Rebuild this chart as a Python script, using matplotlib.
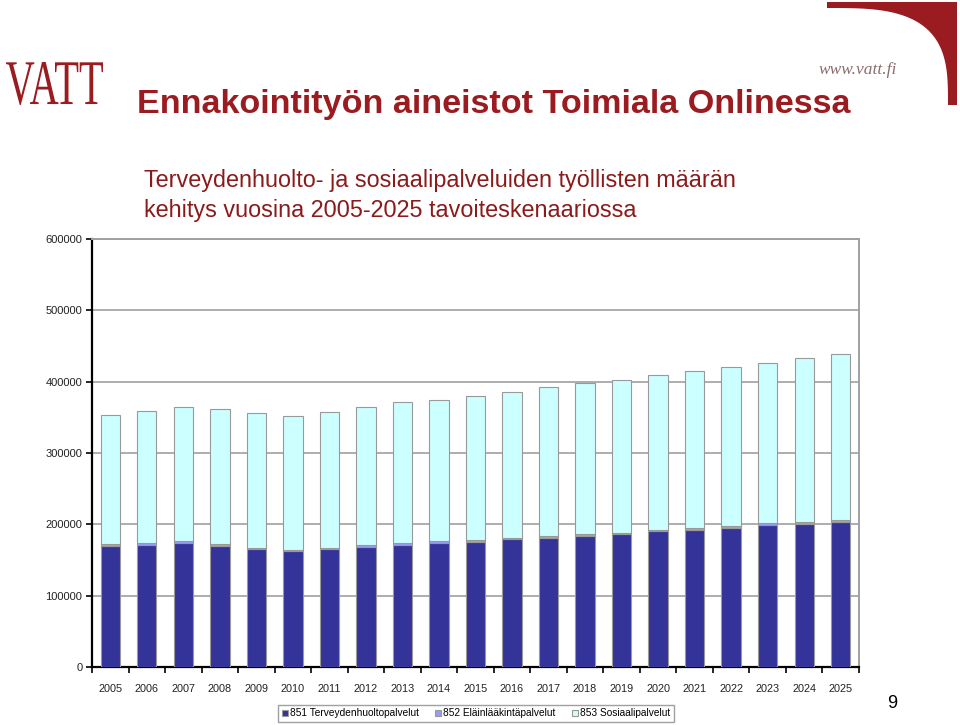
import numpy as np
import matplotlib
matplotlib.use("Agg")
import matplotlib.pyplot as plt
from matplotlib.patches import Polygon, PathPatch
from matplotlib.textpath import TextPath
from matplotlib.font_manager import FontProperties
from matplotlib.transforms import Affine2D

plt.rcParams['font.family'] = ['Liberation Sans', 'DejaVu Sans']

years = [str(y) for y in range(2005, 2026)]
totals = [353500, 358600, 364600, 362300, 356200, 352500, 357700, 364600, 371200, 375000,
          380000, 386000, 392000, 397800, 403000, 409000, 415000, 421000, 426800, 433000, 439000]
s851 = [169700, 170700, 173500, 169700, 165000, 162000, 165000, 168000, 170700, 173500,
        175700, 179000, 181400, 183700, 186000, 190000, 192000, 194500, 198700, 200500, 203000]
s852 = [2500] * 21
s853 = [t - a - b for t, a, b in zip(totals, s851, s852)]
series_names = ["851 Terveydenhuoltopalvelut", "852 Eläinlääkintäpalvelut", "853 Sosiaalipalvelut"]
yticks = [0, 100000, 200000, 300000, 400000, 500000, 600000]

title = "Ennakointityön aineistot Toimiala Onlinessa"
subtitle1 = "Terveydenhuolto- ja sosiaalipalveluiden työllisten määrän"
subtitle2 = "kehitys vuosina 2005-2025 tavoiteskenaariossa"

W, H = 960, 725
fig = plt.figure(figsize=(W / 100, H / 100), dpi=100)
red = "#9b1c20"

def fx(px):
    return px / W

def fy(py):
    return 1 - py / H

# Axes
L, R, T, B = 92, 859, 239, 667
ax = fig.add_axes([fx(L), fy(B), fx(R - L), (B - T) / H])
x = np.arange(len(years))
w = 0.53
edge = "#999999"
ax.bar(x, s851, w, color="#333399", edgecolor=edge, linewidth=0.8, label=series_names[0], zorder=3)
ax.bar(x, s852, w, bottom=s851, color="#9999ff", edgecolor=edge, linewidth=0.8, label=series_names[1], zorder=3)
ax.bar(x, s853, w, bottom=np.array(s851) + np.array(s852), color="#ccffff", edgecolor=edge,
       linewidth=0.8, label=series_names[2], zorder=3)

ax.set_xlim(-0.5, len(years) - 0.5)
ax.set_ylim(0, 600000)
ax.set_yticks(yticks)
ax.set_yticklabels([str(v) for v in yticks], fontsize=8, color="#222222")
ax.yaxis.grid(True, color="#a0a0a0", linewidth=1.2, zorder=0)
ax.set_axisbelow(True)
ax.set_xticks(x)
ax.set_xticklabels(years, fontsize=7.8, color="#222222")
ax.tick_params(axis='x', which='major', length=0, pad=12)
ax.set_xticks(np.arange(-0.5, len(years)), minor=True)
ax.tick_params(axis='x', which='minor', length=4, width=1.2, direction='out', color='black')
ax.tick_params(axis='y', length=4, width=1.2, direction='out', color='black', pad=3)
ax.spines['left'].set_color('black')
ax.spines['left'].set_linewidth(1.6)
ax.spines['bottom'].set_color('black')
ax.spines['bottom'].set_linewidth(1.6)
ax.spines['top'].set_color('#a0a0a0')
ax.spines['top'].set_linewidth(1.4)
ax.spines['right'].set_color('#a0a0a0')
ax.spines['right'].set_linewidth(1.4)

# Legend
leg = fig.legend(loc='center', bbox_to_anchor=(fx(476), fy(713.5)), ncol=3, fontsize=7.3,
                 frameon=True, fancybox=False, edgecolor="#888888", handlelength=0.6,
                 handleheight=0.6, handletextpad=0.2, columnspacing=1.6, borderpad=0.35)
leg.get_frame().set_linewidth(1.0)

# Titles
fig.text(fx(137), fy(104), title, fontsize=24.6, fontweight='bold', color=red, va='center', ha='left')
fig.text(fx(144), fy(180), subtitle1, fontsize=16.8, color="#8b1a1a", va='center', ha='left')
fig.text(fx(144), fy(210), subtitle2, fontsize=16.8, color="#8b1a1a", va='center', ha='left')

fig.text(fx(897), fy(70), "www.vatt.fi", fontsize=12.5, style='italic', family='Liberation Serif',
         color="#8c6d6d", va='center', ha='right')
fig.text(fx(892), fy(703), "9", fontsize=13, color="black", va='center', ha='center')

# VATT logo (condensed serif text path)
tp = TextPath((0, 0), "VATT", size=100, prop=FontProperties(family='Liberation Serif'))
bb = tp.get_extents()
x0, y0, x1, y1 = 6, 62, 103, 105  # pixel box
sx = (x1 - x0) / bb.width
sy = (y1 - y0) / bb.height
trans = Affine2D().translate(-bb.x0, -bb.y0).scale(sx, sy).translate(x0, H - y1)
logo = PathPatch(trans.transform_path(tp), facecolor=red, edgecolor='none', transform=None)
fig.patches.append(logo)

# corner decoration (superellipse inner edge)
n = 3.2
t = np.linspace(0, np.pi / 2, 60)
cx = np.sin(t) ** (2 / n)
cy = np.cos(t) ** (2 / n)
inner = [(827 + 121 * a, 105 - 97 * b) for a, b in zip(cx, cy)]
pts = [(827, 2), (957, 2), (957, 105)] + inner[::-1]
poly = Polygon([(fx(px), fy(py)) for px, py in pts], closed=True, facecolor=red, edgecolor='none',
               transform=fig.transFigure)
fig.patches.append(poly)

fig.savefig("out.png", dpi=100)
